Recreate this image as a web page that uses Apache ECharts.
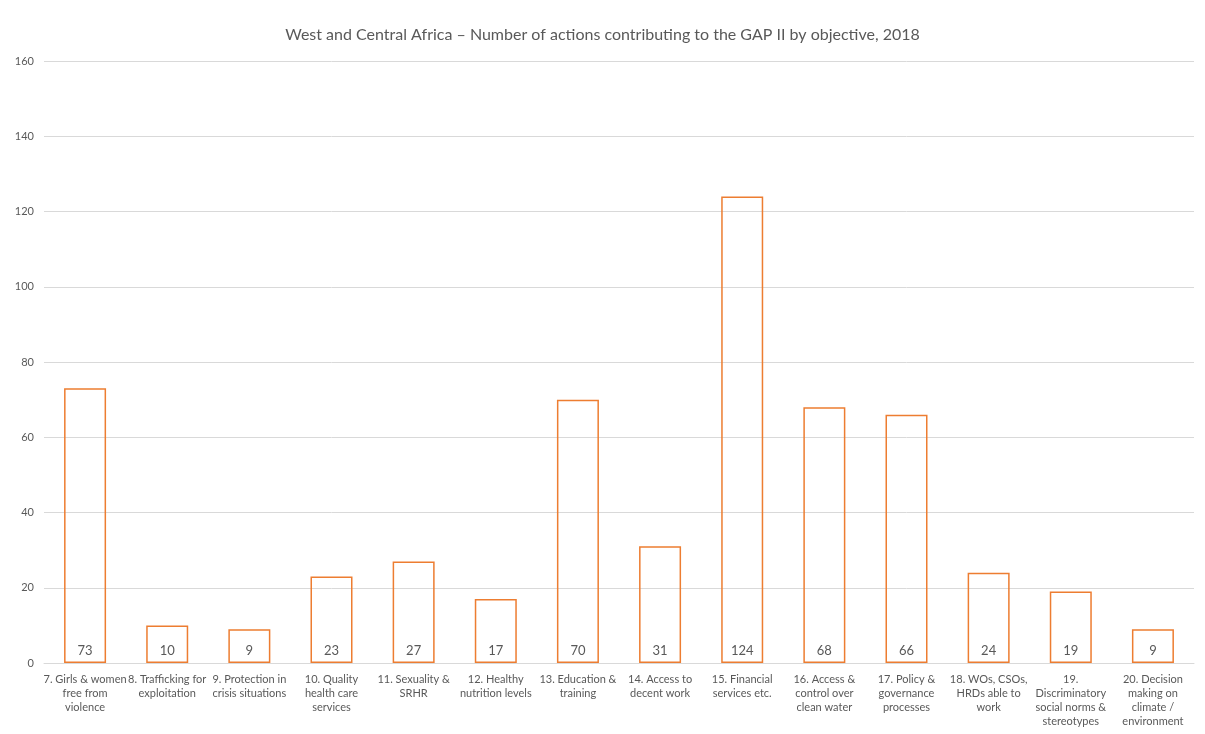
<!DOCTYPE html>
<html><head><meta charset="utf-8">
<script src="https://cdn.jsdelivr.net/npm/echarts@6/dist/echarts.min.js"></script>
<style>html,body{margin:0;padding:0;background:#fff}#c{width:1205px;height:734px}</style>
</head><body><div id="c"></div>
<script>
const title = "West and Central Africa – Number of actions contributing to the GAP II by objective, 2018";
const categories = [
  "7. Girls & women\nfree from\nviolence",
  "8. Trafficking for\nexploitation",
  "9. Protection in\ncrisis situations",
  "10. Quality\nhealth care\nservices",
  "11. Sexuality &\nSRHR",
  "12. Healthy\nnutrition levels",
  "13. Education &\ntraining",
  "14. Access to\ndecent work",
  "15. Financial\nservices etc.",
  "16. Access &\ncontrol over\nclean water",
  "17. Policy &\ngovernance\nprocesses",
  "18. WOs, CSOs,\nHRDs able to\nwork",
  "19.\nDiscriminatory\nsocial norms &\nstereotypes",
  "20. Decision\nmaking on\nclimate /\nenvironment"
];
const values = [73, 10, 9, 23, 27, 17, 70, 31, 124, 68, 66, 24, 19, 9];
const yTicks = { min: 0, max: 160, interval: 20 };

const chart = echarts.init(document.getElementById('c'));
const font = 'Lato, "Open Sans", sans-serif';
chart.setOption({
  animation: false,
  title: { text: title, left: 'center', top: 22,
    textStyle: { fontFamily: font, fontSize: 16, fontWeight: 'normal', color: '#595959' } },
  grid: { left: 44, right: 11, top: 61, bottom: 71, containLabel: false },
  xAxis: { type: 'category', data: categories,
    axisLine: { lineStyle: { color: '#d9d9d9' } },
    axisTick: { show: false },
    axisLabel: { interval: 0, fontFamily: font, fontSize: 11, color: '#595959', lineHeight: 14, margin: 9 } },
  yAxis: { type: 'value', min: yTicks.min, max: yTicks.max, interval: yTicks.interval,
    axisLine: { show: false }, axisTick: { show: false },
    splitLine: { lineStyle: { color: '#d9d9d9', width: 1 } },
    axisLabel: { fontFamily: font, fontSize: 11, color: '#595959', margin: 10 } },
  series: [{ type: 'bar', data: values, barWidth: 42,
    itemStyle: { color: 'rgba(255,255,255,0)', borderColor: '#ed7d31', borderWidth: 1.5 },
    label: { show: true, position: 'insideBottom', distance: 6, fontFamily: font, fontSize: 13, color: '#595959' } }]
});
</script></body></html>
